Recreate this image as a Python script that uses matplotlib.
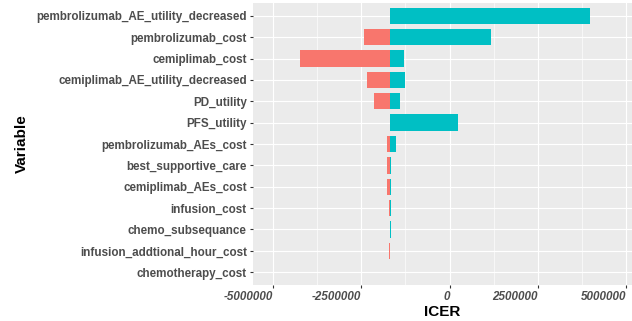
import matplotlib
matplotlib.use("Agg")
import matplotlib.pyplot as plt
from matplotlib.ticker import FixedLocator

plt.rcParams['font.family'] = ['Liberation Sans', 'DejaVu Sans']

# One-way sensitivity analysis (tornado diagram) of the ICER
variables = [
    "pembrolizumab_AE_utility_decreased",
    "pembrolizumab_cost",
    "cemiplimab_cost",
    "cemiplimab_AE_utility_decreased",
    "PD_utility",
    "PFS_utility",
    "pembrolizumab_AEs_cost",
    "best_supportive_care",
    "cemiplimab_AEs_cost",
    "infusion_cost",
    "chemo_subsequance",
    "infusion_addtional_hour_cost",
    "chemotherapy_cost",
]
base_icer = -1700000
low_icer = [-1700000, -2420000, -4240000, -2340000, -2150000, -1700000,
            -1760000, -1770000, -1770000, -1720000, -1700000, -1710000, -1700000]
high_icer = [3970000, 1180000, -1290000, -1260000, -1400000, 245000,
             -1520000, -1660000, -1660000, -1660000, -1670000, -1700000, -1700000]
x_ticks = [-5000000, -2500000, 0, 2500000, 5000000]
x_tick_labels = ["-5000000", "-2500000", "0", "2500000", "5000000"]

RED = "#F8766D"
TEAL = "#00BFC4"

fig = plt.figure(figsize=(6.32, 3.21), dpi=100)
ax = fig.add_axes([253 / 632, 1 - 285 / 321, 379 / 632, 282 / 321])
ax.set_facecolor("#EBEBEB")

n = len(variables)
ypos = [n - i for i in range(n)]
bar_h = 0.77
ax.barh(ypos, [lo - base_icer for lo in low_icer], left=base_icer,
        height=bar_h, color=RED, zorder=3, linewidth=0)
ax.barh(ypos, [hi - base_icer for hi in high_icer], left=base_icer,
        height=bar_h, color=TEAL, zorder=3, linewidth=0)

ax.set_xlim(-5570000, 5170000)
ax.set_ylim(0.4, n + 0.6)

ax.xaxis.set_major_locator(FixedLocator(x_ticks))
ax.xaxis.set_minor_locator(FixedLocator([-3750000, -1250000, 1250000, 3750000]))
ax.set_xticklabels(x_tick_labels)
ax.set_yticks(ypos)
ax.set_yticklabels(variables)

ax.grid(which="major", color="white", linewidth=0.85, zorder=1)
ax.grid(which="minor", axis="x", color="white", linewidth=0.45, zorder=1)
ax.set_axisbelow(True)
for s in ax.spines.values():
    s.set_visible(False)

ax.tick_params(axis="both", which="major", length=2.5, width=0.8,
               color="#333333", pad=2)
ax.tick_params(axis="x", which="minor", length=0)
for lab in ax.get_yticklabels():
    lab.set_fontsize(8.4)
    lab.set_fontweight("bold")
    lab.set_color("#4D4D4D")
for lab in ax.get_xticklabels():
    lab.set_fontsize(8.4)
    lab.set_fontweight("bold")
    lab.set_fontstyle("italic")
    lab.set_color("#4D4D4D")
    lab.set_horizontalalignment("right")

ax.set_xlabel("ICER", fontsize=11, fontweight="bold", labelpad=1)
ax.set_ylabel("Variable", fontsize=11, fontweight="bold", labelpad=5)

fig.savefig("out.png", dpi=100, facecolor="white")
